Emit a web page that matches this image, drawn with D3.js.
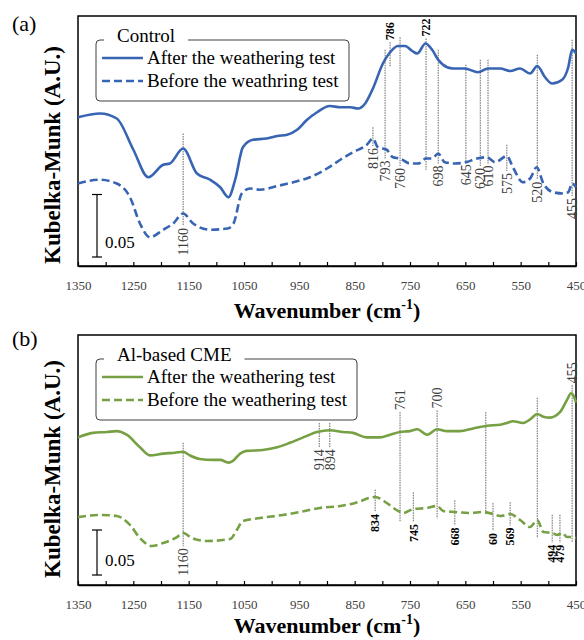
<!DOCTYPE html>
<html>
<head>
<meta charset="utf-8">
<script src="https://cdn.jsdelivr.net/npm/d3@7"></script>
<style>
  body { margin: 0; background: #fff; }
  svg { display: block; font-family: "Liberation Serif", "Times New Roman", serif; }
</style>
</head>
<body>
<div id="chart"></div>
<script>
// x axis
const xTicks = [1350, 1250, 1150, 1050, 950, 850, 750, 650, 550, 450];

// (a) Control - after / before weathering
const wnAfterA = [1350, 1310, 1280, 1250, 1223, 1196, 1184, 1160, 1135, 1111, 1093, 1078, 1066, 1052, 1034, 1009, 990, 972, 954, 936, 918, 895, 876, 858, 844, 831, 817, 799, 786, 772, 759, 746, 737, 722, 710, 699, 683, 672, 651, 627, 609, 587, 569, 551, 533, 520, 506, 493, 475, 464, 457, 450];
const valAfterA = [0.119, 0.122, 0.118, 0.093, 0.071, 0.081, 0.082, 0.094, 0.074, 0.069, 0.063, 0.055, 0.069, 0.095, 0.101, 0.102, 0.104, 0.105, 0.109, 0.117, 0.123, 0.128, 0.127, 0.127, 0.126, 0.130, 0.142, 0.162, 0.171, 0.176, 0.176, 0.172, 0.170, 0.178, 0.173, 0.165, 0.159, 0.158, 0.158, 0.155, 0.158, 0.158, 0.156, 0.158, 0.154, 0.160, 0.151, 0.146, 0.149, 0.159, 0.173, 0.170];
const wnBeforeA = [1350, 1310, 1280, 1256, 1238, 1220, 1196, 1178, 1160, 1142, 1111, 1080, 1069, 1054, 1039, 1021, 990, 961, 931, 900, 876, 853, 828, 817, 808, 792, 781, 768, 750, 735, 721, 710, 699, 687, 669, 649, 629, 611, 596, 575, 564, 546, 533, 521, 509, 491, 473, 464, 457, 450];
const valBeforeA = [0.066, 0.069, 0.066, 0.055, 0.034, 0.023, 0.029, 0.034, 0.042, 0.034, 0.029, 0.030, 0.034, 0.058, 0.062, 0.061, 0.064, 0.067, 0.071, 0.078, 0.085, 0.091, 0.097, 0.102, 0.095, 0.093, 0.087, 0.086, 0.082, 0.082, 0.086, 0.086, 0.090, 0.083, 0.082, 0.083, 0.086, 0.087, 0.083, 0.088, 0.079, 0.067, 0.070, 0.079, 0.066, 0.059, 0.058, 0.059, 0.066, 0.063];

// (a) peak markers
const peakWnA = [1160, 817, 795, 786, 768, 721, 699, 649, 623, 609, 575, 520, 457];
const peakTextA = ["1160", "816", "793", "786", "760", "722", "698", "645", "620", "610", "575", "520", "455"];
const peakTopA = [0.106, 0.111, 0.173, 0.179, 0.183, 0.182, 0.173, 0.161, 0.165, 0.165, 0.097, 0.169, 0.181];
const peakBottomA = [0.032, 0.096, 0.086, 0.159, 0.080, 0.077, 0.082, 0.083, 0.080, 0.082, 0.076, 0.069, 0.056];
const peakSideA = ["below", "below", "below", "above", "below", "above", "below", "below", "below", "below", "below", "below", "below"];
const boldA = ["786", "722"];

// (b) Al-based CME - after / before weathering
const wnAfterB = [1350, 1323, 1298, 1280, 1262, 1238, 1220, 1196, 1175, 1160, 1148, 1130, 1106, 1093, 1078, 1070, 1057, 1045, 1016, 990, 967, 943, 918, 895, 871, 853, 828, 804, 786, 768, 750, 737, 719, 701, 683, 660, 636, 611, 587, 575, 564, 546, 533, 520, 509, 497, 479, 466, 459, 455, 450];
const valAfterB = [0.164, 0.169, 0.170, 0.171, 0.167, 0.153, 0.144, 0.146, 0.147, 0.148, 0.144, 0.140, 0.139, 0.139, 0.136, 0.138, 0.146, 0.149, 0.150, 0.153, 0.158, 0.164, 0.170, 0.172, 0.170, 0.169, 0.164, 0.164, 0.167, 0.170, 0.171, 0.173, 0.167, 0.173, 0.171, 0.171, 0.174, 0.177, 0.178, 0.180, 0.182, 0.180, 0.184, 0.190, 0.187, 0.186, 0.192, 0.206, 0.213, 0.211, 0.203];
const wnBeforeB = [1350, 1310, 1280, 1256, 1238, 1217, 1196, 1171, 1160, 1144, 1117, 1075, 1063, 1052, 1021, 980, 949, 913, 876, 849, 813, 792, 774, 762, 744, 719, 701, 690, 669, 642, 618, 600, 587, 569, 551, 533, 520, 509, 493, 484, 475, 466, 457, 450];
const valBeforeB = [0.0756, 0.0778, 0.0767, 0.0667, 0.0522, 0.0433, 0.0467, 0.0533, 0.0578, 0.0522, 0.0489, 0.0511, 0.0611, 0.0711, 0.0744, 0.0778, 0.0811, 0.0856, 0.0878, 0.0911, 0.0978, 0.0911, 0.0833, 0.0800, 0.0844, 0.0856, 0.0878, 0.0822, 0.0811, 0.0800, 0.0811, 0.0789, 0.0767, 0.0789, 0.0722, 0.0644, 0.0722, 0.0589, 0.0578, 0.0556, 0.0578, 0.0533, 0.0533, 0.0522];

// (b) peak markers
const peakWnB = [1160, 914, 895, 768, 701, 613, 520, 457, 813, 744, 669, 600, 569, 493, 479];
const peakTextB = ["1160", "914", "894", "761", "700", "", "", "455", "834", "745", "668", "60", "569", "494", "479"];
const peakTopB = [0.158, 0.180, 0.180, 0.192, 0.194, 0.192, 0.208, 0.222, 0.106, 0.103, 0.094, 0.091, 0.092, 0.078, 0.078];
const peakBottomB = [0.043, 0.153, 0.153, 0.070, 0.074, 0.078, 0.052, 0.047, 0.081, 0.070, 0.066, 0.060, 0.066, 0.047, 0.047];
const peakSideB = ["below", "below", "below", "above", "above", "below", "below", "above", "below", "below", "below", "below", "below", "below", "below"];
const boldB = ["834", "745", "668", "60", "569", "494", "479"];

const width = 584, height = 640;
const serif = "'Liberation Serif', 'Times New Roman', serif";
const svg = d3.select("#chart").append("svg")
    .attr("width", width)
    .attr("height", height);

const drawPanel = (p) => {
    const x = d3.scaleLinear().domain([1350, 450]).range([78, 576]);
    const y = d3.scaleLinear().domain([0, p.yMax]).range([p.bottom, p.top]);
    const g = svg.append("g");

    // panel letter
    g.append("text")
        .attr("x", 12).attr("y", p.letterY)
        .style("font-size", "22px")
        .text(p.letter);

    // y title
    g.append("text")
        .attr("transform", `translate(60, ${p.yTitleMid}) rotate(-90)`)
        .attr("text-anchor", "middle")
        .style("font-size", "23px")
        .style("font-weight", "bold")
        .text("Kubelka-Munk (A.U.)");

    // frame
    g.append("rect")
        .attr("x", 78).attr("y", p.top)
        .attr("width", 498).attr("height", p.bottom - p.top)
        .attr("fill", "none")
        .attr("stroke", "#000")
        .attr("stroke-width", 1.5);

    // bottom axis, ticks inward every 50
    const axis = d3.axisBottom(x)
        .tickValues(d3.range(1350, 449, -50))
        .tickSizeInner(-4)
        .tickSizeOuter(0)
        .tickFormat(d => xTicks.includes(d) ? d : "");
    const ax = g.append("g")
        .attr("transform", `translate(0, ${p.bottom})`)
        .call(axis)
        .attr("font-family", serif);
    ax.select(".domain").attr("stroke-width", 1.5);
    ax.selectAll(".tick line").attr("stroke-width", 1.2);
    ax.selectAll(".tick text")
        .attr("y", 15)
        .attr("fill", "#404040")
        .style("font-family", serif)
        .style("font-size", "13px");

    // x title
    const xt = g.append("text")
        .attr("x", 327).attr("y", p.xTitleY)
        .attr("text-anchor", "middle")
        .style("font-size", "22px")
        .style("font-weight", "bold");
    xt.append("tspan").text("Wavenumber (cm");
    xt.append("tspan").attr("dy", -9).style("font-size", "14px").text("-1");
    xt.append("tspan").attr("dy", 9).text(")");

    // peak markers
    p.peakWn.forEach((wn, i) => {
        const px = x(wn);
        g.append("line")
            .attr("x1", px).attr("x2", px)
            .attr("y1", y(p.peakTop[i])).attr("y2", y(p.peakBottom[i]))
            .attr("stroke", "#555")
            .attr("stroke-width", 0.9)
            .attr("stroke-dasharray", "1.5,1");
        const txt = p.peakText[i];
        if (!txt) return;
        const bold = p.bold.includes(txt);
        const below = p.peakSide[i] === "below";
        const ty = below ? y(p.peakBottom[i]) + 2 : y(p.peakTop[i]) - 2;
        g.append("text")
            .attr("transform", `translate(${px}, ${ty}) rotate(-90)`)
            .attr("text-anchor", below ? "end" : "start")
            .attr("dy", "0.35em")
            .attr("fill", bold ? "#000" : "#404040")
            .style("font-size", bold ? "12px" : "14px")
            .style("font-weight", bold ? "bold" : "normal")
            .text(txt);
    });

    // spectra
    const line = d3.line()
        .x(d => x(d[0]))
        .y(d => y(d[1]))
        .curve(d3.curveMonotoneX);
    g.append("path")
        .datum(p.wnBefore.map((w, i) => [w, p.valBefore[i]]))
        .attr("d", line)
        .attr("fill", "none")
        .attr("stroke", p.color)
        .attr("stroke-width", 2.6)
        .attr("stroke-dasharray", "8,4");
    g.append("path")
        .datum(p.wnAfter.map((w, i) => [w, p.valAfter[i]]))
        .attr("d", line)
        .attr("fill", "none")
        .attr("stroke", p.color)
        .attr("stroke-width", 2.6);

    // scale bar 0.05
    const y0 = y(p.barBase), y1 = y(p.barBase + 0.05);
    const bar = g.append("g").attr("stroke", "#000").attr("stroke-width", 1.2);
    bar.append("line").attr("x1", 97).attr("x2", 97).attr("y1", y0).attr("y2", y1);
    bar.append("line").attr("x1", 92).attr("x2", 102).attr("y1", y0).attr("y2", y0);
    bar.append("line").attr("x1", 92).attr("x2", 102).attr("y1", y1).attr("y2", y1);
    g.append("text")
        .attr("x", 105).attr("y", y0 - 9)
        .style("font-size", "17px")
        .text("0.05");

    // legend
    const lg = g.append("g");
    lg.append("rect")
        .attr("x", 96).attr("y", p.legTop)
        .attr("width", p.legRight - 96).attr("height", 61)
        .attr("rx", 4)
        .attr("fill", "#fff")
        .attr("stroke", "#404040")
        .attr("stroke-width", 1);
    const title = lg.append("text")
        .attr("x", 117).attr("y", p.legTop + 2)
        .style("font-size", "19px")
        .text(p.legTitle);
    const tw = title.node().getComputedTextLength();
    lg.insert("rect", "text")
        .attr("x", 104).attr("y", p.legTop - 3)
        .attr("width", tw + 26).attr("height", 6)
        .attr("fill", "#fff");
    p.legLabels.forEach((lab, i) => {
        const ly = p.legTop + 18 + i * 23;
        lg.append("line")
            .attr("x1", 102).attr("x2", 143)
            .attr("y1", ly).attr("y2", ly)
            .attr("stroke", p.color)
            .attr("stroke-width", 2.6)
            .attr("stroke-dasharray", i === 0 ? null : "8,4");
        lg.append("text")
            .attr("x", 147).attr("y", ly + 6)
            .style("font-size", "19px")
            .text(lab);
    });
};

drawPanel({
    letter: "(a)", letterY: 31, top: 16, bottom: 266, yMax: 0.2,
    yTitleMid: 155, xTitleY: 318, color: "#3864b4",
    wnAfter: wnAfterA, valAfter: valAfterA, wnBefore: wnBeforeA, valBefore: valBeforeA,
    peakWn: peakWnA, peakText: peakTextA, peakTop: peakTopA, peakBottom: peakBottomA,
    peakSide: peakSideA, bold: boldA, barBase: 0.0072,
    legTop: 40, legRight: 349, legTitle: "Control",
    legLabels: ["After the weathering test", "Before the weathring test"]
});

drawPanel({
    letter: "(b)", letterY: 346, top: 335, bottom: 585, yMax: 250 / 900,
    yTitleMid: 469, xTitleY: 633, color: "#76a043",
    wnAfter: wnAfterB, valAfter: valAfterB, wnBefore: wnBeforeB, valBefore: valBeforeB,
    peakWn: peakWnB, peakText: peakTextB, peakTop: peakTopB, peakBottom: peakBottomB,
    peakSide: peakSideB, bold: boldB, barBase: 0.0111,
    legTop: 359, legRight: 357, legTitle: "Al-based CME",
    legLabels: ["After the weathering test", "Before the weathering test"]
});
</script>
</body>
</html>
